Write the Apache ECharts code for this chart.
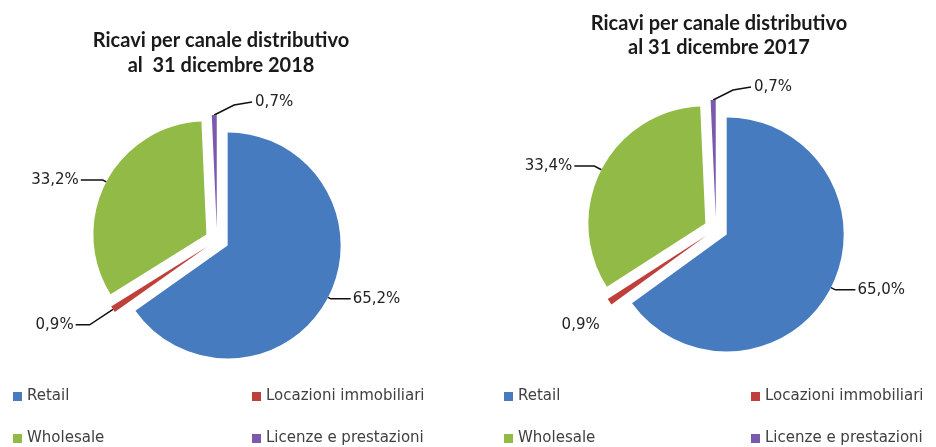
<!DOCTYPE html>
<html lang="it">
<head>
    <meta charset="UTF-8">
    <title>Ricavi per canale distributivo</title>
    <style>
        html, body { margin: 0; padding: 0; background: #fff; }
        div#main { width: 936px; height: 447px; }
    </style>
</head>
<body>
    <div id="main"></div>
    <script src="https://cdnjs.cloudflare.com/ajax/libs/echarts/6.0.0/echarts.min.js"></script>
    <script>
        const categories = ['Retail', 'Locazioni immobiliari', 'Wholesale', 'Licenze e prestazioni'];
        const values2018 = [65.2, 0.9, 33.2, 0.7];
        const values2017 = [65.0, 0.9, 33.4, 0.7];
        const titles = [
            'Ricavi per canale distributivo\nal  31 dicembre 2018',
            'Ricavi per canale distributivo\nal 31 dicembre 2017'
        ];

        const colors = ['#477BC0', '#BF3F3A', '#92BA47', '#7B5AAE'];
        const myChart = echarts.init(document.getElementById('main'));

        // leader line lengths per slice [length, length2, show]
        const lines2018 = [[3, 20, true], [28, 14, true], [4, 22, true], [8, 22, true]];
        const lines2017 = [[5, 20, true], [41, -26, false], [8, 20, true], [8, 22, true]];

        const fmt = v => v.toFixed(1).replace('.', ',') + '%';

        function buildData(values, lines) {
            return values.map((v, i) => ({
                name: categories[i],
                value: v,
                selected: true,
                labelLine: { show: lines[i][2], length: lines[i][0], length2: lines[i][1] }
            }));
        }

        // the tiny slice at the top gets its label on the right side, as in the original
        function flipTop(params) {
            if (params.dataIndex !== 3 || !params.labelLinePoints) return;
            const [p0, p1, p2] = params.labelLinePoints;
            const np1 = [p1[0] + 20, p1[1] - 2];
            const np2 = [np1[0] + 18, np1[1] - 3];
            const r = params.labelRect;
            return {
                dx: np2[0] + 3 - r.x,
                dy: np2[1] - (r.y + r.height / 2),
                labelLinePoints: [p0, np1, np2]
            };
        }

        function pieSeries(values, lines, center, radius) {
            return {
                type: 'pie',
                center: center,
                radius: radius,
                startAngle: 90,
                clockwise: true,
                selectedMode: 'multiple',
                selectedOffset: 12,
                avoidLabelOverlap: false,
                animation: false,
                label: {
                    position: 'outside',
                    formatter: p => fmt(p.value),
                    fontFamily: 'DejaVu Sans',
                    fontSize: 15,
                    color: '#222',
                    distanceToLabelLine: 2
                },
                labelLine: {
                    smooth: false,
                    lineStyle: { color: '#111', width: 1.5 }
                },
                labelLayout: flipTop,
                emphasis: { scale: false },
                data: buildData(values, lines)
            };
        }

        function legendCol(names, left) {
            return {
                data: names,
                orient: 'vertical',
                left: left,
                top: 389,
                padding: 0,
                itemGap: 27,
                itemWidth: 9,
                itemHeight: 9,
                itemTextGap: 5,
                icon: 'rect',
                selectedMode: false,
                textStyle: { fontFamily: 'DejaVu Sans', fontSize: 15, color: '#404040' }
            };
        }

        const option = {
            backgroundColor: '#fff',
            color: colors,
            title: [
                {
                    text: titles[0],
                    left: 216,
                    top: 23,
                    textAlign: 'center',
                    textStyle: { fontFamily: 'Lato', fontWeight: 'bold', fontSize: 20, lineHeight: 25, color: '#1a1a1a' }
                },
                {
                    text: titles[1],
                    left: 714,
                    top: 7,
                    textAlign: 'center',
                    textStyle: { fontFamily: 'Lato', fontWeight: 'bold', fontSize: 20, lineHeight: 24, color: '#1a1a1a' }
                }
            ],
            legend: [
                legendCol([categories[0], categories[2]], 13),
                legendCol([categories[1], categories[3]], 252),
                legendCol([categories[0], categories[2]], 504),
                legendCol([categories[1], categories[3]], 751)
            ],
            series: [
                pieSeries(values2018, lines2018, [217, 240], 113),
                pieSeries(values2017, lines2017, [716, 229], 117)
            ]
        };

        myChart.setOption(option);
    </script>
</body>
</html>
